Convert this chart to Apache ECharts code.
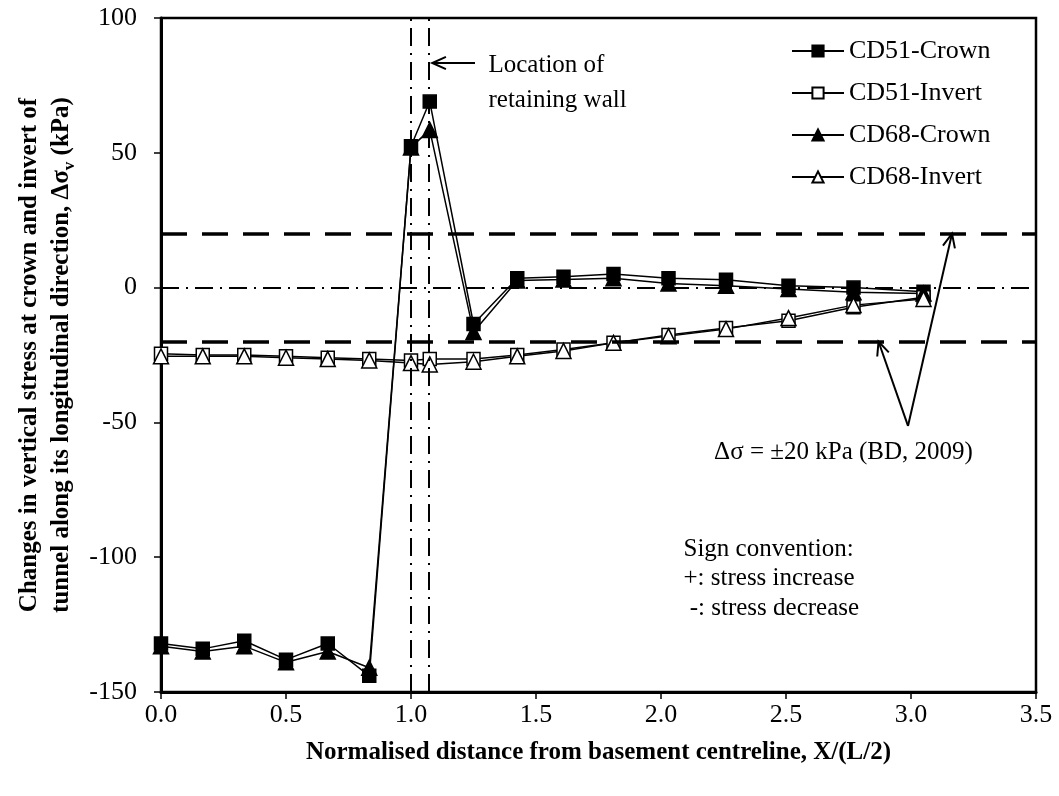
<!DOCTYPE html>
<html>
<head>
<meta charset="utf-8">
<script src="https://cdn.jsdelivr.net/npm/echarts@6/dist/echarts.min.js"></script>
<style>
  html, body { margin: 0; padding: 0; background: #fff; }
  #main { width: 1059px; height: 796px; }
</style>
</head>
<body>
<div id="main"></div>
<script>
// normalised distance X/(L/2)
var xDist = [0, 0.167, 0.333, 0.5, 0.667, 0.833, 1.0, 1.075, 1.25, 1.425, 1.61, 1.81, 2.03, 2.26, 2.51, 2.77, 3.05];
// change in vertical stress (kPa)
var cd51Crown  = [-132, -134, -131, -138, -132, -144, 52.4, 69, -13.5, 3.5, 4, 5, 3.5, 2.9, 0.7, 0, -1.5];
var cd51Invert = [-24.5, -25, -25, -25.5, -26, -26.5, -27, -26.5, -26.5, -25, -23, -20.5, -17.6, -15, -12.3, -7.3, -3.6];
var cd68Crown  = [-133, -135, -133, -139, -135, -141, 52, 58.5, -16.5, 2.6, 3, 3.5, 1.5, 0.7, -0.5, -1.7, -2.2];
var cd68Invert = [-25.5, -25.5, -25.5, -26, -26.5, -27, -28, -28.5, -27.5, -25.5, -23.5, -20.5, -18, -15.4, -11.3, -6.5, -4.2];
var seriesNames = ['CD51-Crown', 'CD51-Invert', 'CD68-Crown', 'CD68-Invert'];
var limitStress = 20;       // BD, 2009
var wallLines = [1.0, 1.075]; // retaining wall location

var font = 'Liberation Serif';

function pairs(ys) {
  return xDist.map(function (x, i) { return [x, ys[i]]; });
}

function makeSeries(name, ys, symbol, filled) {
  return {
    name: name,
    type: 'line',
    data: pairs(ys),
    symbol: symbol,
    symbolSize: symbol === 'triangle' ? 15 : 13,
    lineStyle: { color: '#000', width: 1.5 },
    itemStyle: { color: filled ? '#000' : '#fff', borderColor: '#000', borderWidth: 1.5 },
    animation: false
  };
}

var series = [
  makeSeries(seriesNames[0], cd51Crown, 'rect', true),
  makeSeries(seriesNames[1], cd51Invert, 'rect', false),
  makeSeries(seriesNames[2], cd68Crown, 'triangle', true),
  makeSeries(seriesNames[3], cd68Invert, 'triangle', false)
];

// reference lines
series[0].markLine = {
  silent: true,
  symbol: 'none',
  label: { show: false },
  animation: false,
  data: [
    { yAxis: limitStress, lineStyle: { color: '#000', width: 3.5, type: [26, 15] } },
    { yAxis: -limitStress, lineStyle: { color: '#000', width: 3.5, type: [26, 15] } },
    { yAxis: 0, lineStyle: { color: '#000', width: 2, type: [18, 7, 2, 7] } },
    { xAxis: wallLines[0], lineStyle: { color: '#000', width: 2, type: [18, 7, 2, 7] } },
    { xAxis: wallLines[1], lineStyle: { color: '#000', width: 2, type: [18, 7, 2, 7] } }
  ]
};

var option = {
  backgroundColor: '#fff',
  textStyle: { fontFamily: font, color: '#000' },
  grid: {
    left: 161, right: 23, top: 18, bottom: 104,
    show: true, borderColor: '#000', borderWidth: 2.5, backgroundColor: 'transparent'
  },
  legend: {
    orient: 'vertical',
    left: 786, top: 33,
    itemWidth: 52, itemHeight: 14, itemGap: 16,
    textStyle: { fontFamily: font, fontSize: 26, color: '#000' },
    data: seriesNames
  },
  xAxis: {
    type: 'value', min: 0, max: 3.5, interval: 0.5,
    axisLine: { show: true, onZero: false, lineStyle: { color: '#000', width: 3 } },
    axisTick: { show: true, inside: false, length: 7, lineStyle: { color: '#000', width: 1.5 } },
    splitLine: { show: false },
    axisLabel: {
      fontFamily: font, fontSize: 26, color: '#000', margin: 10,
      formatter: function (v) { return v.toFixed(1); }
    },
    name: 'Normalised distance from basement centreline, X/(L/2)',
    nameLocation: 'middle', nameGap: 48,
    nameTextStyle: { fontFamily: font, fontSize: 25, fontWeight: 'bold', color: '#000' }
  },
  yAxis: {
    type: 'value', min: -150, max: 100, interval: 50,
    axisLine: { show: true, onZero: false, lineStyle: { color: '#000', width: 3 } },
    axisTick: { show: true, inside: false, length: 7, lineStyle: { color: '#000', width: 1.5 } },
    splitLine: { show: false },
    axisLabel: { fontFamily: font, fontSize: 26, color: '#000', margin: 24 },
    name: '{b|Changes in vertical stress at crown and invert of}\n{b|tunnel along its longitudinal direction, \u0394\u03c3}{s|v}{b| (kPa)}',
    nameLocation: 'middle', nameGap: 83, nameRotate: 90,
    nameTextStyle: {
      lineHeight: 32,
      rich: {
        b: { fontFamily: font, fontSize: 25, fontWeight: 'bold', color: '#000', lineHeight: 32 },
        s: { fontFamily: font, fontSize: 17, fontWeight: 'bold', color: '#000', lineHeight: 32, verticalAlign: 'bottom', padding: [8, 0, 0, 0] }
      }
    }
  },
  series: series
};

var chart = echarts.init(document.getElementById('main'));
chart.setOption(option);

function px(x, y) {
  return chart.convertToPixel({ gridIndex: 0 }, [x, y]);
}

function arrow(from, to) {
  var a = px(from[0], from[1]), b = px(to[0], to[1]);
  var ang = Math.atan2(b[1] - a[1], b[0] - a[0]);
  var L = 15, w = 0.42;
  var h1 = [b[0] - L * Math.cos(ang - w), b[1] - L * Math.sin(ang - w)];
  var h2 = [b[0] - L * Math.cos(ang + w), b[1] - L * Math.sin(ang + w)];
  return [
    { type: 'line', shape: { x1: a[0], y1: a[1], x2: b[0], y2: b[1] }, style: { stroke: '#000', lineWidth: 2 }, z: 100 },
    { type: 'polyline', shape: { points: [h1, b, h2] }, style: { stroke: '#000', lineWidth: 2, fill: null }, z: 100 }
  ];
}

function label(x, y, text, align) {
  var p = px(x, y);
  return {
    type: 'text', x: p[0], y: p[1], z: 100,
    style: { text: text, fontFamily: font, fontSize: 25, fill: '#000', align: align || 'left', verticalAlign: 'middle' }
  };
}

var vertex = [2.988, -51.3];
var graphics = []
  .concat(arrow([1.256, 83.3], [1.085, 83.3]))
  .concat(arrow(vertex, [3.164, limitStress]))
  .concat(arrow(vertex, [2.87, -limitStress]))
  .concat([
    label(1.31, 82.5, 'Location of'),
    label(1.31, 69.5, 'retaining wall'),
    label(2.73, -61.3, '\u0394\u03c3 = \u00b120 kPa (BD, 2009)', 'center'),
    label(2.09, -97, 'Sign convention:'),
    label(2.09, -108, '+: stress increase'),
    label(2.09, -119, ' -: stress decrease')
  ]);

chart.setOption({ graphic: graphics });
</script>
</body>
</html>
